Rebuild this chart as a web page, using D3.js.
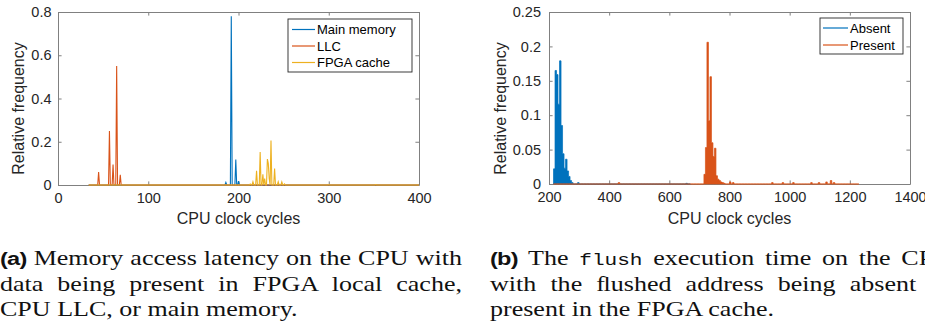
<!DOCTYPE html>
<html>
<head>
<meta charset="utf-8">
<script src="https://cdn.jsdelivr.net/npm/d3@7"></script>
<style>
  body { margin: 0; background: #fff; }
  svg { display: block; }
</style>
</head>
<body>
<div id="chart"></div>
<script>
// ---- (a) memory access latency: relative frequency per cycle count ----
const latencyRange = [34, 400];
const mainMemory = [[186, 0.012], [192, 0.78], [197, 0.118], [200, 0.018]];
const llc = [[45, 0.06], [57, 0.25], [61, 0.095], [65, 0.55], [69, 0.047]];
const fpgaCache = [[213, 0.004], [216, 0.015], [220, 0.066], [224, 0.153], [227, 0.05], [229, 0.03],
  [232, 0.12], [233, 0.1], [234, 0.03], [236, 0.206], [240, 0.076], [244, 0.015], [248, 0.014],
  [251, 0.005], [300, 0.002], [352, 0.002]];
const latencyXTicks = [0, 100, 200, 300, 400];
const latencyXLabels = ['0', '100', '200', '300', '400'];
const latencyYTicks = [0, 0.2, 0.4, 0.6, 0.8];
const latencyYLabels = ['0', '0.2', '0.4', '0.6', '0.8'];

// ---- (b) flush execution time: histogram, 5-cycle bins (bin start, freq) ----
const binWidth = 5;
const absentRange = [215, 665];
const presentRange = [215, 1225];
const absent = [[215, 0.022], [220, 0.165], [225, 0.159], [230, 0.116], [235, 0.179], [240, 0.085],
  [245, 0.044], [250, 0.023], [255, 0.036], [260, 0.019], [265, 0.011], [270, 0.005], [275, 0.002],
  [295, 0.002], [655, 0.001]];
const present = [[430, 0.002], [715, 0.014], [720, 0.053], [725, 0.206], [730, 0.092], [735, 0.156],
  [740, 0.06], [745, 0.04], [750, 0.052], [755, 0.012], [760, 0.007], [765, 0.005], [770, 0.003],
  [775, 0.002], [780, 0.001], [800, 0.003], [810, 0.002], [940, 0.002], [975, 0.002], [1010, 0.002],
  [1070, 0.002], [1095, 0.002], [1120, 0.003], [1135, 0.005], [1145, 0.002]];
const flushXTicks = [200, 400, 600, 800, 1000, 1200, 1400];
const flushXLabels = ['200', '400', '600', '800', '1000', '1200', '1400'];
const flushYTicks = [0, 0.05, 0.1, 0.15, 0.2, 0.25];
const flushYLabels = ['0', '0.05', '0.1', '0.15', '0.2', '0.25'];

const xTitle = 'CPU clock cycles';
const yTitle = 'Relative frequency';

// captions: segments are [text, kind]
const captionA = [
  [['(a)', 'bold'], [' Memory access latency on the CPU with', 'serif']],
  [['data being present in FPGA local cache,', 'serif']],
  [['CPU LLC, or main memory.', 'serif']]
];
const captionB = [
  [['(b)', 'bold'], [' The ', 'serif'], ['flush', 'mono'], [' execution time on the CPU', 'serif']],
  [['with the ﬂushed address being absent or', 'serif']],
  [['present in the FPGA cache.', 'serif']]
];

const BLUE = '#0072BD', ORANGE = '#D95319', YELLOW = '#EDB120';
const AXIS = '#808080', INK = '#262626';

const svg = d3.select('#chart').append('svg')
  .attr('width', 925).attr('height', 329)
  .style('font-family', '"Liberation Sans", Arial, Helvetica, sans-serif');

function frame(box, xDomain, yDomain, xt, xl, yt, yl, yPad) {
  const x = d3.scaleLinear().domain(xDomain).range([box.left, box.right]);
  const y = d3.scaleLinear().domain(yDomain).range([box.bottom, box.top]);
  const tick = -3.6;
  const g = svg.append('g');

  g.append('g').attr('transform', `translate(0,${box.bottom})`)
    .call(d3.axisBottom(x).tickValues(xt).tickFormat((d, i) => xl[i])
      .tickSizeInner(tick).tickSizeOuter(0).tickPadding(8));
  g.append('g').attr('transform', `translate(0,${box.top})`)
    .call(d3.axisTop(x).tickValues(xt).tickFormat('').tickSizeInner(tick).tickSizeOuter(0));
  g.append('g').attr('transform', `translate(${box.left},0)`)
    .call(d3.axisLeft(y).tickValues(yt).tickFormat((d, i) => yl[i])
      .tickSizeInner(tick).tickSizeOuter(0).tickPadding(yPad));
  g.append('g').attr('transform', `translate(${box.right},0)`)
    .call(d3.axisRight(y).tickValues(yt).tickFormat('').tickSizeInner(tick).tickSizeOuter(0));

  g.selectAll('.domain').attr('stroke', AXIS).attr('stroke-width', 1);
  g.selectAll('.tick line').attr('stroke', AXIS).attr('stroke-width', 1);
  g.selectAll('.tick text').attr('fill', INK)
    .style('font-size', '14.5px').style('font-family', '"Liberation Sans", Arial, sans-serif');
  g.selectAll('g').attr('font-family', null).attr('font-size', null);

  const cx = (box.left + box.right) / 2;
  svg.append('text').attr('x', cx).attr('y', 224).attr('text-anchor', 'middle')
    .attr('fill', INK).style('font-size', '16px').text(xTitle);
  svg.append('text').attr('transform', `translate(${box.yTitleX},108.5) rotate(-90)`)
    .attr('text-anchor', 'middle').attr('fill', INK).style('font-size', '16px').text(yTitle);
  return { x, y };
}

function legend(box, items) {
  const g = svg.append('g');
  g.append('rect').attr('x', box.x).attr('y', box.y).attr('width', box.w).attr('height', box.h)
    .attr('fill', '#fff').attr('stroke', INK).attr('stroke-width', 0.9);
  items.forEach((it, i) => {
    const cy = box.y + box.first + i * box.step;
    g.append('line').attr('x1', box.x + box.l0).attr('x2', box.x + box.l1)
      .attr('y1', cy).attr('y2', cy).attr('stroke', it[1]).attr('stroke-width', 1.2);
    g.append('text').attr('x', box.x + box.l1 + 2).attr('y', cy + 4.7)
      .attr('fill', '#000').style('font-size', '13px').text(it[0]);
  });
}

// ---- panel (a) ----
const A = frame({ left: 58, right: 419, top: 12, bottom: 185, yTitleX: 24 },
  [0, 400], [0, 0.8], latencyXTicks, latencyXLabels, latencyYTicks, latencyYLabels, 6.5);

function perCycle(points, range) {
  const m = new Map(points);
  return d3.range(range[0], range[1] + 1).map(c => [c, m.get(c) || 0]);
}
const lineA = d3.line().x(d => A.x(d[0])).y(d => A.y(d[1]));
[[mainMemory, BLUE], [llc, ORANGE], [fpgaCache, YELLOW]].forEach(([pts, col]) => {
  svg.append('path').datum(perCycle(pts, latencyRange))
    .attr('d', lineA).attr('fill', 'none').attr('stroke', col)
    .attr('stroke-width', 1.1).attr('stroke-linejoin', 'miter');
});
legend({ x: 288, y: 19, w: 124, h: 53, first: 10.5, step: 16.5, l0: 4, l1: 27 },
  [['Main memory', BLUE], ['LLC', ORANGE], ['FPGA cache', YELLOW]]);

// ---- panel (b) ----
const B = frame({ left: 549, right: 910, top: 12, bottom: 184, yTitleX: 506 },
  [200, 1400], [0, 0.25], flushXTicks, flushXLabels, flushYTicks, flushYLabels, 8);

function stairs(points, range) {
  const m = new Map(points);
  const out = d3.range(range[0], range[1] + binWidth, binWidth).map(b => [b, m.get(b) || 0]);
  out.push([range[1] + binWidth, 0]);
  return out;
}
const areaB = d3.area().x(d => B.x(d[0])).y0(B.y(0)).y1(d => B.y(d[1])).curve(d3.curveStepAfter);
[[absent, absentRange, BLUE], [present, presentRange, ORANGE]].forEach(([pts, rng, col]) => {
  svg.append('path').datum(stairs(pts, rng))
    .attr('d', areaB).attr('fill', col).attr('stroke', col).attr('stroke-width', 0.7);
});
legend({ x: 820, y: 18, w: 83, h: 36, first: 10, step: 17, l0: 3, l1: 28 },
  [['Absent', BLUE], ['Present', ORANGE]]);

// ---- captions ----
const capBase = [265, 291, 316];
const stretch = 1.24;
const fonts = {
  serif: { family: '"Liberation Serif", "Times New Roman", serif', size: 21, weight: 'normal', ls: 0 },
  bold: { family: '"Liberation Sans Narrow", "Liberation Sans", Arial, sans-serif', size: 19, weight: 'bold', ls: -0.6 },
  mono: { family: '"Liberation Mono", "DejaVu Sans Mono", monospace', size: 17, weight: 'normal', ls: 0 }
};
function caption(x0, lines, width) {
  lines.forEach((segs, i) => {
    const t = svg.append('text')
      .attr('transform', `translate(${x0},${capBase[i]}) scale(${stretch},1)`)
      .attr('fill', '#111');
    segs.forEach(([txt, kind]) => {
      const f = fonts[kind];
      t.append('tspan').text(txt)
        .style('font-family', f.family).style('font-size', f.size + 'px')
        .style('font-weight', f.weight).style('letter-spacing', f.ls + 'px');
    });
    if (i < lines.length - 1) {
      const nat = t.node().getComputedTextLength();
      const spaces = segs.map(s => s[0]).join('').split(' ').length - 1;
      const extra = (width / stretch - nat) / spaces;
      t.style('word-spacing', extra + 'px');
    }
  });
}
caption(0, captionA, 462);
caption(490, captionB, 462);
</script>
</body>
</html>
